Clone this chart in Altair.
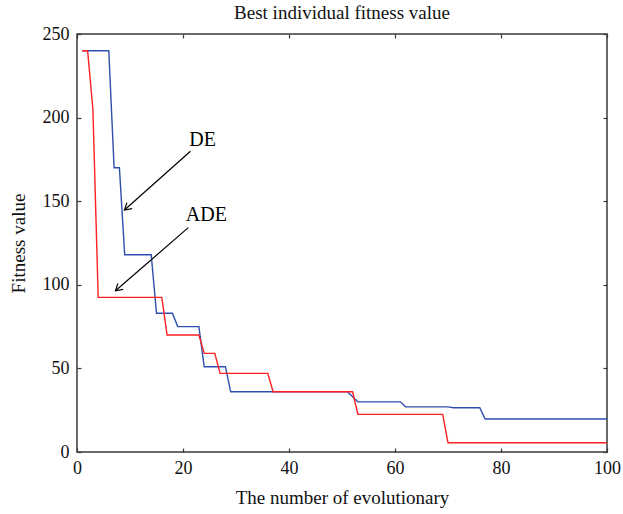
import altair as alt
import pandas as pd

# Vertices of the two convergence curves (generation, best fitness)
de_gen = [1, 6, 7, 8, 9, 14, 15, 18, 19, 23, 24, 28, 29, 51, 52, 53, 61, 62, 70, 71, 76, 77, 100]
de_fit = [240, 240, 170, 170, 118, 118, 83, 83, 75, 75, 51, 51, 36, 36, 33, 30, 30, 27, 27, 26.5, 26.5, 19.7, 19.7]

ade_gen = [1, 2, 3, 4, 16, 17, 23, 24, 26, 27, 36, 37, 52, 53, 69, 70, 100]
ade_fit = [240, 240, 205, 92.5, 92.5, 70, 70, 59, 59, 47, 47, 36, 36, 22.5, 22.5, 5.5, 5.5]

x_ticks = [0, 20, 40, 60, 80, 100]
y_ticks = [0, 50, 100, 150, 200, 250]

# Annotations
ann_labels = ["DE", "ADE"]
ann_text_x = [23.7, 24.4]
ann_text_y = [186.6, 141.7]
arrow_x_start = [21.4, 21.0]
arrow_y_start = [179.9, 134.2]
arrow_x_end = [8.96, 7.26]
arrow_y_end = [144.7, 96.4]

FONT = "Liberation Serif"
FRAME = "#3a3a3a"

de_df = pd.DataFrame({"gen": de_gen, "fit": de_fit})
ade_df = pd.DataFrame({"gen": ade_gen, "fit": ade_fit})
ann_df = pd.DataFrame({
    "label": ann_labels, "tx": ann_text_x, "ty": ann_text_y,
    "x1": arrow_x_start, "y1": arrow_y_start, "x2": arrow_x_end, "y2": arrow_y_end,
})

xs = alt.Scale(domain=[0, 100], nice=False, zero=False)
ys = alt.Scale(domain=[0, 250], nice=False, zero=False)


def tick_axis(orient):
    return alt.Axis(orient=orient, values=(x_ticks if orient in ("top", "bottom") else y_ticks),
                    offset=-4, tickSize=4, labels=False, domain=False, grid=False,
                    title=None, tickColor=FRAME, tickWidth=1.2)


blue = alt.Chart(de_df).mark_line(color="#2f4fae", strokeWidth=1.4).encode(
    x=alt.X("gen:Q", scale=xs, axis=alt.Axis(
        orient="bottom", values=x_ticks, ticks=False, tickSize=0, domain=False, grid=False,
        labelFont=FONT, titleFont=FONT, labelColor="#111", titleColor="#111",
        titleFontWeight="normal",
        labelFontSize=18, labelPadding=7, title="The number of evolutionary",
        titleFontSize=19, titlePadding=11, labelFlush=False)),
    y=alt.Y("fit:Q", scale=ys, axis=alt.Axis(
        orient="left", values=y_ticks, ticks=False, tickSize=0, domain=False, grid=False,
        labelFont=FONT, titleFont=FONT, labelColor="#111", titleColor="#111",
        titleFontWeight="normal",
        labelFontSize=18, labelPadding=8, title="Fitness value",
        titleFontSize=19, titlePadding=14, labelFlush=False)),
)

red = alt.Chart(ade_df).mark_line(color="#ff2020", strokeWidth=1.4).encode(
    x=alt.X("gen:Q", scale=xs, axis=tick_axis("bottom")),
    y=alt.Y("fit:Q", scale=ys, axis=tick_axis("left")),
)

arrows = alt.Chart(ann_df).mark_rule(color="black", strokeWidth=1.2).encode(
    x=alt.X("x1:Q", scale=xs, axis=tick_axis("top")),
    y=alt.Y("y1:Q", scale=ys, axis=tick_axis("right")),
    x2="x2:Q",
    y2="y2:Q",
)

heads = alt.Chart(ann_df).mark_point(
    shape="M -1 -0.6 L 0 0 L -1 0.6", filled=False, stroke="black",
    strokeWidth=1.2, size=180, angle=139, opacity=1,
).encode(
    x=alt.X("x2:Q", scale=xs, axis=None),
    y=alt.Y("y2:Q", scale=ys, axis=None),
)

texts = alt.Chart(ann_df).mark_text(
    font=FONT, fontSize=20, color="black", align="center", baseline="middle",
).encode(
    x=alt.X("tx:Q", scale=xs, axis=None),
    y=alt.Y("ty:Q", scale=ys, axis=None),
    text="label:N",
)

chart = alt.layer(blue, red, arrows, heads, texts).resolve_axis(
    x="independent", y="independent"
).properties(
    width=530,
    height=418,
    title=alt.TitleParams("Best individual fitness value", font=FONT, fontSize=19,
                          fontWeight="normal", color="#111", offset=2),
    autosize=alt.AutoSizeParams(type="none"),
    padding={"left": 77, "top": 34, "right": 16, "bottom": 62},
    background="white",
).configure_axis(
    labelFont=FONT, titleFont=FONT, labelColor="#111", titleColor="#111",
    titleFontWeight="normal", grid=False,
).configure_view(
    stroke=FRAME, strokeWidth=1.5,
)

chart.save("out.html", embed_options={"renderer": "svg", "actions": False})
